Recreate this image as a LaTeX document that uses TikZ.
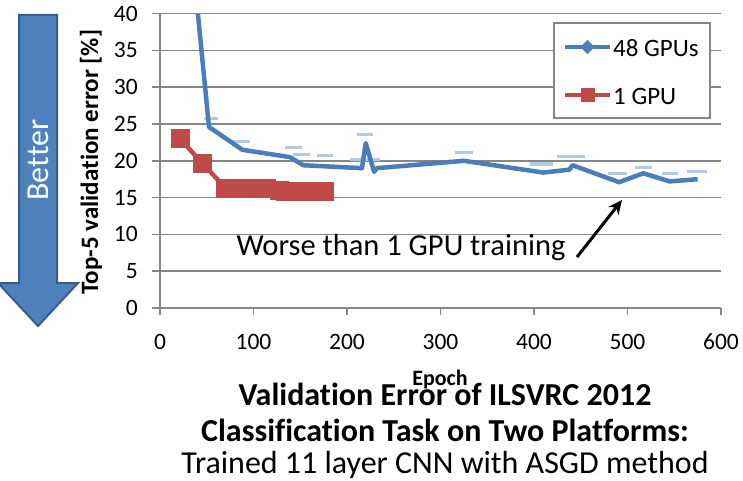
\documentclass[tikz,border=0pt]{standalone}
\usepackage{fontspec}
\setmainfont{Carlito}[Ligatures={NoCommon}]
\usetikzlibrary{arrows.meta}
\definecolor{sblue}{HTML}{4A7EBB}
\definecolor{sred}{HTML}{BE4B48}
\definecolor{gridc}{HTML}{878787}
\definecolor{arrfill}{HTML}{4F81BD}
\definecolor{arrline}{HTML}{385D8A}
\definecolor{lblc}{HTML}{B3C9E6}
\tikzset{
  gridline/.style={draw=gridc, line width=1.5pt},
  ticklbl/.style={font=\fontsize{23.5}{27}\selectfont, inner sep=0pt},
  leglbl/.style={font=\fontsize{25}{28}\selectfont, inner sep=0pt},
  sqr/.style={fill=sred, minimum size=19pt, inner sep=0pt, draw=none},
  lbldash/.style={draw=lblc, line width=3pt},
  seriesblue/.style={draw=sblue, line width=4.5pt, line join=round},
  seriesred/.style={draw=sred, line width=4.5pt, line join=round},
}
\begin{document}
\begin{tikzpicture}[x=1pt,y=-1pt]
\useasboundingbox (0,0) rectangle (743,481);
% grid
\foreach \v in {5,10,...,40} \draw[gridline] (160,{308-7.36*\v}) -- (721,{308-7.36*\v});
% axes
\draw[gridline] (160,{308-7.36*40}) -- (160,308);
\draw[gridline] (160,308) -- (721,308);
\foreach \v in {0,5,...,40} {
  \draw[gridline] (152,{308-7.36*\v}) -- (160,{308-7.36*\v});
  \node[ticklbl, anchor=east] (yl\v) at (138,{308-7.36*\v}) {\v};
}
\foreach \e in {0,100,...,600} {
  \draw[gridline] ({160+0.935*\e},308) -- ({160+0.935*\e},315);
  \node[ticklbl] (xl\e) at ({160+0.935*\e},342) {\e};
}
% label dashes
\foreach \a/\b/\c in {204/218/119, 233/250/142, 285/302/148, 293/310/155, 317/333/156, 357/373/135, 350/380/160, 455/473/153, 530/553/164, 557/585/157, 608/627/173, 635/652/167, 662/678/173, 687/707/171}
  \draw[lbldash] (\a,\c) -- (\b,\c);
% data
\begin{scope}[shift={(160,308)}, x=0.935pt, y=7.36pt]
\draw[seriesblue] (40.5,40) -- (52.4,24.6) -- (88,21.5) -- (139,20.5) -- (153,19.4) -- (216,19.0) -- (220,22.4) -- (229,18.5) -- (232,19.0) -- (325,20.0) -- (410,18.4) -- (438,18.8) -- (441,19.4) -- (491,17.1) -- (517,18.3) -- (545,17.2) -- (575,17.5);
\draw[seriesred] (21.4,23) -- (45,19.7) -- (70,16.3) -- (85,16.3) -- (100,16.3) -- (114,16.2) -- (128,16.0) -- (134,15.8) -- (146,15.8) -- (160,15.8) -- (176,15.8);
\foreach \p [count=\i] in {(21.4,23),(45,19.7),(70,16.3),(85,16.3),(100,16.3),(114,16.2),(128,16.0),(134,15.8),(146,15.8),(160,15.8),(176,15.8)}
  \node[sqr] (r\i) at \p {};
\end{scope}
% legend
\node[draw=gridc, line width=1.5pt, fill=white, minimum width=156pt, minimum height=95pt, inner sep=0pt] (legend) at (632,70.5) {};
\draw[seriesblue] (565,47) -- (610,47);
\node[fill=sblue, minimum size=10pt, inner sep=0pt, rotate=45] (lgb) at (587.5,47) {};
\node[leglbl, anchor=west] (lgbt) at (613,48) {48 GPUs};
\draw[seriesred] (565,95) -- (610,95);
\node[sqr, minimum size=14pt] (lgr) at (587.5,95) {};
\node[leglbl, anchor=west] (lgrt) at (613,96) {1 GPU};
% Better arrow
\draw[fill=arrfill, draw=arrline, line width=2pt, line join=miter] (19,15) -- (57,15) -- (57,283) -- (78,283) -- (38,326) -- (-2,283) -- (19,283) -- cycle;
\node[rotate=90, text=white, font=\fontsize{32}{36}\selectfont] (better) at (38,160) {Better};
% y label
\node[rotate=90, font=\bfseries\fontsize{25}{28}\selectfont] (ylab) at (91,162) {Top-5 validation error [\%]};
% annotation
\node[font=\fontsize{30.5}{33}\selectfont, inner sep=0pt] (worse) at (401,248) {Worse than 1 GPU training};
\coordinate (wtail) at (577,257);
\coordinate (wtip) at (622,200);
\draw[line width=3pt, -{Stealth[length=14pt, width=13pt]}] (wtail) -- (wtip);
% titles
\node[font=\bfseries\fontsize{22}{24}\selectfont, inner sep=0pt] (epoch) at (440,380) {Epoch};
\node[font=\bfseries\fontsize{32}{35}\selectfont, inner sep=0pt] (t1) at (445,394) {Validation Error of ILSVRC 2012};
\node[font=\bfseries\fontsize{32}{35}\selectfont, inner sep=0pt] (t2) at (445,430) {Classification Task on Two Platforms:};
\node[font=\fontsize{32}{35}\selectfont, inner sep=0pt] (t3) at (445,465) {Trained 11 layer CNN with ASGD method};
\end{tikzpicture}
\end{document}
